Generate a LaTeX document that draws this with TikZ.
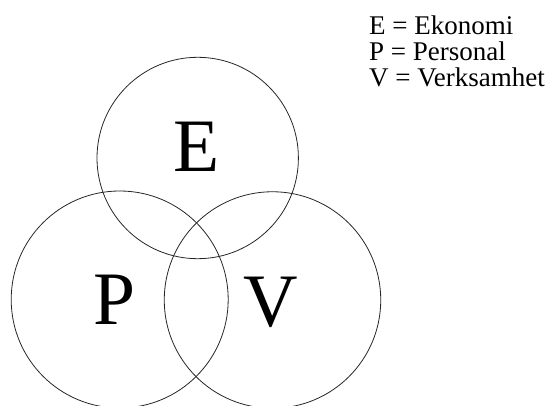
\documentclass[tikz,border=0pt]{standalone}
\usepackage{fontspec}
\setmainfont{Liberation Serif}
\begin{document}
\begin{tikzpicture}[x=1pt,y=-1pt,
  venn/.style={circle, draw=black!85, line width=0.8pt, inner sep=0pt},
  big/.style={font=\fontsize{75.5}{80}\selectfont, anchor=base, inner sep=0pt},
  legend/.style={font=\fontsize{27}{28}\selectfont, anchor=base west, inner sep=0pt}]
\useasboundingbox (0,0) rectangle (549,406);
\node[venn, minimum size=201.4pt] (cE) at (197.7,158) {};
\node[venn, minimum size=217pt] (cP) at (119.7,299.5) {};
\node[venn, minimum size=216.5pt] (cV) at (272.5,300) {};
\node[big] (lE) at (197,171.7) {E};
\node[big] (lP) at (114,324) {P};
\node[big] (lV) at (271,326) {V};
\node[legend] (t1) at (369,35) {E = Ekonomi};
\node[legend] (t2) at (369,61) {P = Personal};
\node[legend] (t3) at (369,87) {V = Verksamhet};
\end{tikzpicture}
\end{document}
